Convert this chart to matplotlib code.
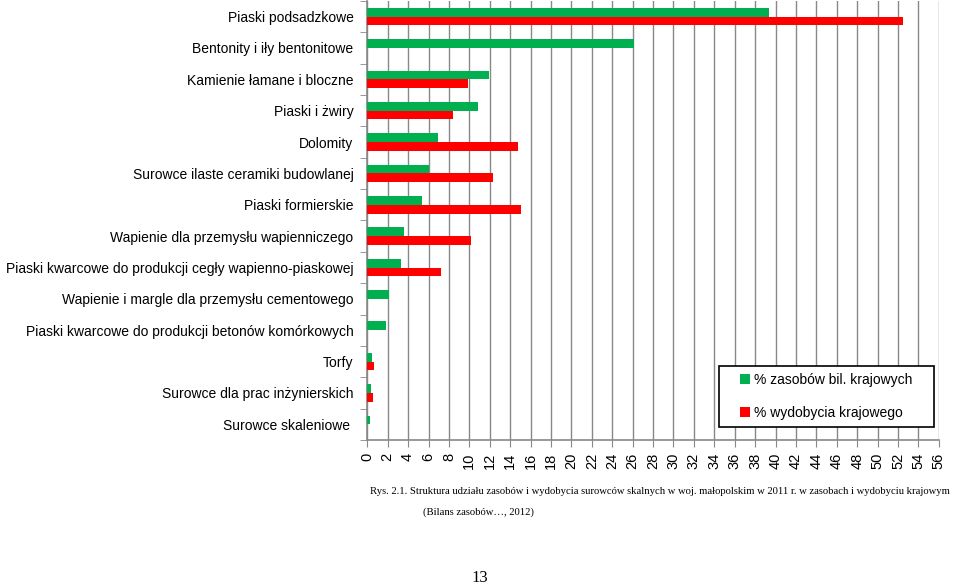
import numpy as np
import matplotlib.pyplot as plt
from matplotlib.patches import Rectangle

# Kategorie surowców (od góry)
kategorie = [
    "Piaski podsadzkowe",
    "Bentonity i iły bentonitowe",
    "Kamienie łamane i bloczne",
    "Piaski i żwiry",
    "Dolomity",
    "Surowce ilaste ceramiki budowlanej",
    "Piaski formierskie",
    "Wapienie dla przemysłu wapienniczego",
    "Piaski kwarcowe do produkcji cegły wapienno-piaskowej",
    "Wapienie i margle dla przemysłu cementowego",
    "Piaski kwarcowe do produkcji betonów komórkowych",
    "Torfy",
    "Surowce dla prac inżynierskich",
    "Surowce skaleniowe ",
]

# % zasobów bil. krajowych
zasoby = [39.4, 26.1, 11.9, 10.8, 6.9, 6.0, 5.4, 3.6, 3.3, 2.1, 1.8, 0.5, 0.4, 0.3]
# % wydobycia krajowego
wydobycie = [52.5, 0, 9.9, 8.4, 14.8, 12.3, 15.1, 10.2, 7.2, 0, 0, 0.7, 0.6, 0]

x_ticks = np.arange(0, 57, 2)

podpis1 = ("Rys. 2.1. Struktura udziału zasobów i wydobycia surowców skalnych "
           "w woj. małopolskim w 2011 r. w zasobach i wydobyciu krajowym")
podpis2 = "(Bilans zasobów…, 2012)"

plt.rcParams["font.family"] = ["Liberation Sans", "DejaVu Sans"]

fig = plt.figure(figsize=(9.59, 5.87), dpi=100)
ax = fig.add_axes([0.383, 0.2504, 0.596, 0.748])

n = len(kategorie)
y = np.arange(n)
h = 0.28
ax.barh(y - h / 2, zasoby, height=h, color="#00b050", label="% zasobów bil. krajowych", zorder=3)
ax.barh(y + h / 2, wydobycie, height=h, color="#ff0000", label="% wydobycia krajowego", zorder=3)

ax.set_ylim(n - 0.5, -0.5)
ax.set_xlim(0, 56)
ax.set_xticks(x_ticks)
ax.set_xticklabels([str(v) for v in x_ticks], rotation=90, fontsize=10.5)

ax.set_yticks(y)
ax.set_yticklabels(kategorie, fontsize=10)
ax.tick_params(axis="y", length=0, pad=10)
ax.set_yticks(np.arange(-0.5, n, 1), minor=True)
ax.tick_params(axis="y", which="minor", length=5, color="#888888")
ax.tick_params(axis="x", length=5, color="#888888", pad=4)

ax.grid(axis="x", color="#888888", linewidth=1, zorder=0)
for s in ["top", "right"]:
    ax.spines[s].set_visible(False)
for s in ["left", "bottom"]:
    ax.spines[s].set_color("#888888")
    ax.spines[s].set_linewidth(1.2)

# ramka legendy
ax.add_patch(Rectangle((0.615, 0.03), 0.376, 0.139, transform=ax.transAxes,
                       facecolor="white", edgecolor="black", linewidth=1.2, zorder=4))
leg = ax.legend(loc="center", bbox_to_anchor=(0.803, 0.0995), fontsize=10,
                frameon=False, handlelength=0.7, handleheight=0.7,
                handletextpad=0.3, labelspacing=1.35, borderpad=0.2)
leg.set_zorder(5)

# podpis - dopasowanie szerokości do oryginału
t1 = fig.text(0.3858, 0.1635, podpis1, family="Liberation Serif", fontsize=12,
              ha="left", va="center")
r = fig.canvas.get_renderer()
w = t1.get_window_extent(r).width
t1.set_fontsize(12 * 580 / w)
fig.text(0.4985, 0.128, podpis2, family="Liberation Serif",
         fontsize=t1.get_fontsize(), ha="center", va="center")
fig.text(0.5, 0.015, "13", family="Liberation Serif", fontsize=12, ha="center", va="center")

fig.savefig("out.png", dpi=100)
